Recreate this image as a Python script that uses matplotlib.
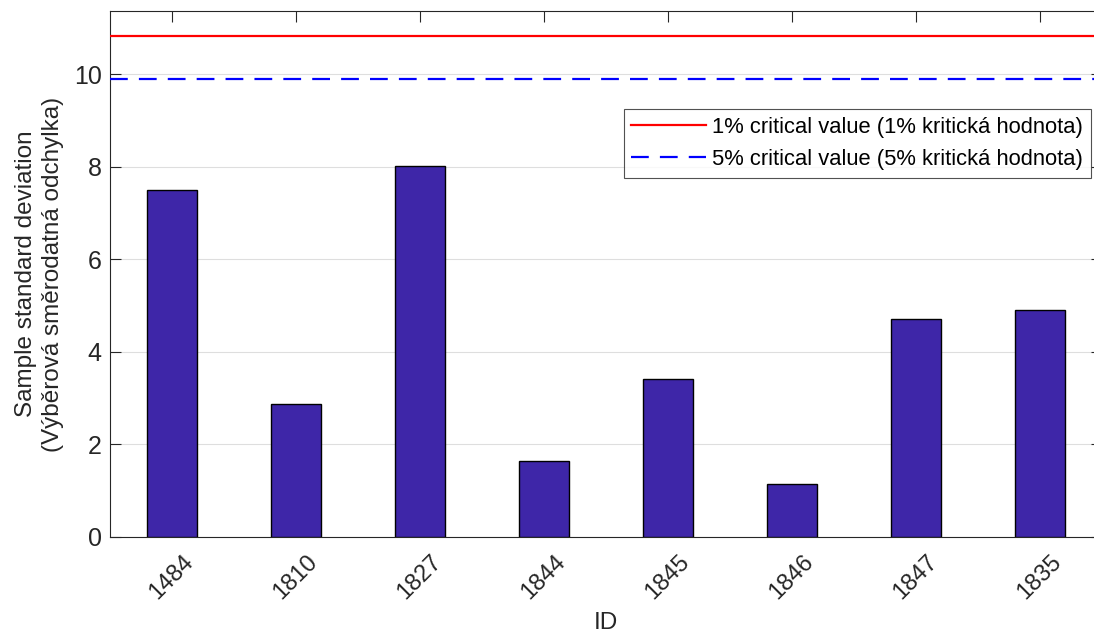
import matplotlib.pyplot as plt
import numpy as np

plt.rcParams['font.family'] = ['Liberation Sans', 'DejaVu Sans']

# data
ids = ['1484', '1810', '1827', '1844', '1845', '1846', '1847', '1835']
sd_values = [7.51, 2.87, 8.01, 1.64, 3.41, 1.14, 4.71, 4.91]
crit_1 = 10.83
crit_5 = 9.91

bar_color = (0.2422, 0.1504, 0.6603)
axis_gray = (0.15, 0.15, 0.15)

fig = plt.figure(figsize=(10.94, 6.37), dpi=100)
# axes runs a bit past the right border, like the cropped original
ax = fig.add_axes([110 / 1094, 100 / 637, 992 / 1094, 526 / 637])

x = np.arange(1, len(ids) + 1)
ax.bar(x, sd_values, width=0.4, color=bar_color, edgecolor='black',
       linewidth=1.0, zorder=3)

ax.axhline(crit_1, color='red', linewidth=1.6, zorder=4,
           label='1% critical value (1% kritická hodnota)')
ax.axhline(crit_5, color='blue', linewidth=1.6, linestyle=(0, (8, 5)), zorder=4,
           label='5% critical value (5% kritická hodnota)')

ax.set_xlim(0.5, 8.5)
ax.set_ylim(0, 11.37)
ax.set_xticks(x)
ax.set_xticklabels(ids, rotation=45, ha='center', fontsize=17)
ax.set_yticks([0, 2, 4, 6, 8, 10])

ax.grid(axis='y', color=(0.87, 0.87, 0.87), linewidth=0.8, zorder=0)
ax.set_axisbelow(True)

ax.tick_params(direction='in', length=8, width=0.8, color=axis_gray,
               labelcolor=axis_gray, top=True, right=True, pad=6)
ax.tick_params(axis='y', labelsize=18)
ax.tick_params(axis='x', pad=10)
for s in ax.spines.values():
    s.set_color(axis_gray)
    s.set_linewidth(0.8)

ax.set_xlabel('ID', fontsize=17.5, color=axis_gray, labelpad=6)
ax.set_ylabel('Sample standard deviation\n(Výběrová směrodatná odchylka)',
              fontsize=17.5, color=axis_gray, labelpad=7, linespacing=1.3)

leg = ax.legend(loc='upper right', bbox_to_anchor=(1091 / 1094, 528 / 637),
                bbox_transform=fig.transFigure, fontsize=15.8, frameon=True,
                fancybox=False, edgecolor=axis_gray, borderpad=0.35,
                handlelength=3.4, handletextpad=0.3, labelspacing=0.52,
                borderaxespad=0)
leg.get_frame().set_linewidth(0.8)

fig.savefig('out.png', dpi=100)
